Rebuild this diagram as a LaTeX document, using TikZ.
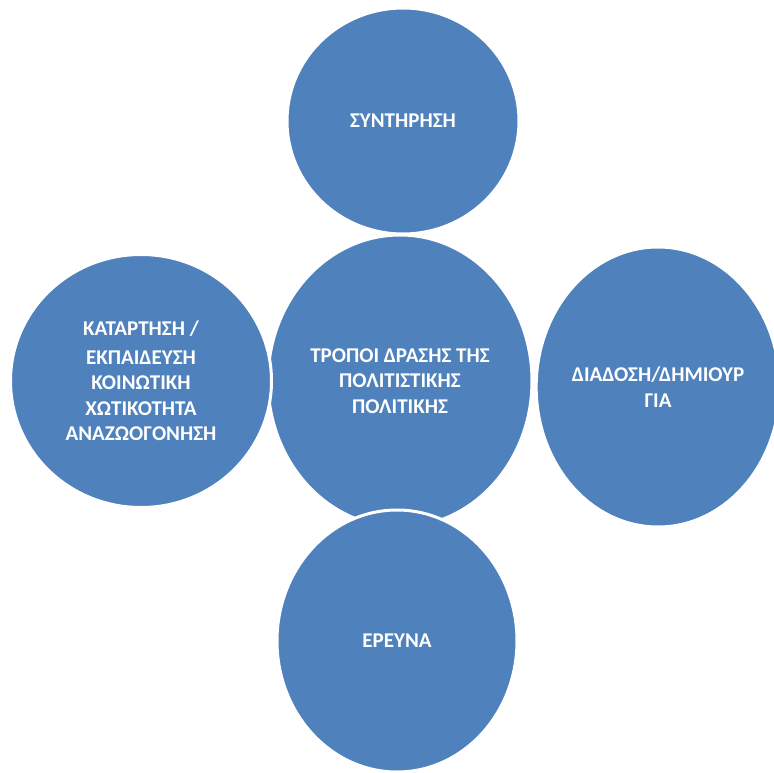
\documentclass[tikz,border=0pt]{standalone}
\usepackage{fontspec}
\setmainfont{Carlito}
\usetikzlibrary{shapes.geometric}
\definecolor{bubbleblue}{HTML}{4F81BD}
\begin{document}
\begin{tikzpicture}[x=1pt, y=-1pt,
  		bubble/.style={ellipse, draw=white, line width=3pt, fill=bubbleblue,
  		  text=white, font=\fontsize{21}{25.6}\selectfont\bfseries,
  		  align=center, inner sep=0pt}]
  		\useasboundingbox (0,0) rectangle (774,773);
  		\node[bubble, minimum width=264pt, minimum height=292pt] (center) at (400,381)
  		  {ΤΡΟΠΟΙ ΔΡΑΣΗΣ ΤΗΣ\\ΠΟΛΙΤΙΣΤΙΚΗΣ\\ΠΟΛΙΤΙΚΗΣ};
  		\node[bubble, minimum width=232pt, minimum height=226pt] (top) at (403,121)
  		  {ΣΥΝΤΗΡΗΣΗ};
  		\node[bubble, minimum width=240pt, minimum height=262pt] (bottom) at (397,641)
  		  {ΕΡΕΥΝΑ};
  		\node[bubble, minimum width=261pt, minimum height=253pt] (left) at (141,381)
  		  {ΚΑΤΑΡΤΗΣΗ /\\[3pt]ΕΚΠΑΙΔΕΥΣΗ\\ΚΟΙΝΩΤΙΚΗ\\ΧΩΤΙΚΟΤΗΤΑ\\ΑΝΑΖΩΟΓΟΝΗΣΗ};
  		\node[bubble, minimum width=234pt, minimum height=280pt] (right) at (658,387)
  		  {ΔΙΑΔΟΣΗ/ΔΗΜΙΟΥΡ\\ΓΙΑ};
\end{tikzpicture}
\end{document}
